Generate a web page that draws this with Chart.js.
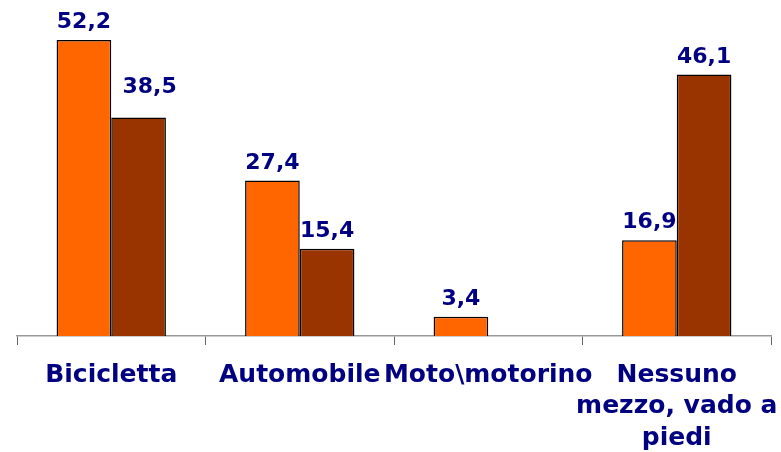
<!DOCTYPE html>
<html>
<head>
<meta charset="utf-8">
<script src="https://cdn.jsdelivr.net/npm/chart.js@4/dist/chart.umd.min.js"></script>
<style>
html,body{margin:0;padding:0;background:#fff;}
#wrap{width:781px;height:452px;position:relative;}
</style>
</head>
<body>
<div id="wrap"><canvas id="c" width="781" height="452"></canvas></div>
<script>
const categories = [["Bicicletta"], ["Automobile"], ["Moto\\motorino"], ["Nessuno", "mezzo, vado a", "piedi"]];
const seriesA = [52.2, 27.4, 3.4, 16.9];
const seriesB = [38.5, 15.4, null, 46.1];
const yMax = 58;

const labelPlugin = {
  id: 'valueLabels',
  afterDatasetsDraw(chart) {
    const ctx = chart.ctx;
    ctx.save();
    ctx.font = 'bold 22px "DejaVu Sans"';
    ctx.fillStyle = '#000080';
    ctx.textAlign = 'center';
    ctx.textBaseline = 'alphabetic';
    chart.data.datasets.forEach((ds, di) => {
      const meta = chart.getDatasetMeta(di);
      meta.data.forEach((el, i) => {
        const v = ds.data[i];
        if (v === null || v === undefined) return;
        let dx = 0, dy = 0;
        if (di === 1 && i === 0) { dx = 11; dy = -13; }
        ctx.fillText(v.toFixed(1).replace('.', ','), el.x + dx, el.y - 12 + dy);
      });
    });
    ctx.restore();
  }
};

new Chart(document.getElementById('c'), {
  type: 'bar',
  data: {
    labels: categories,
    datasets: [
      { data: seriesA, backgroundColor: '#FF6600', borderColor: '#000000', borderWidth: 1.5 },
      { data: seriesB, backgroundColor: '#993300', borderColor: '#000000', borderWidth: 1.5 }
    ]
  },
  options: {
    responsive: false,
    animation: false,
    events: [],
    layout: { padding: { left: 17, right: 10, top: 7, bottom: 0 } },
    plugins: { legend: { display: false }, tooltip: { enabled: false } },
    datasets: { bar: { categoryPercentage: 0.58, barPercentage: 1.0, grouped: true } },
    scales: {
      x: {
        offset: true,
        border: { display: true, color: '#999999', width: 1.5 },
        grid: { display: true, drawOnChartArea: false, drawTicks: true, tickLength: 9, tickColor: '#666666', offset: true },
        ticks: {
          color: '#000080',
          font: { family: '"DejaVu Sans"', weight: 'bold', size: 25, lineHeight: 1.25 },
          padding: 15,
          maxRotation: 0,
          autoSkip: false
        },
        afterFit(scale) { scale.height = 116; scale.paddingLeft = 0; scale.paddingRight = 0; }
      },
      y: {
        display: false,
        min: 0,
        max: yMax
      }
    }
  },
  plugins: [labelPlugin]
});
</script>
</body>
</html>
